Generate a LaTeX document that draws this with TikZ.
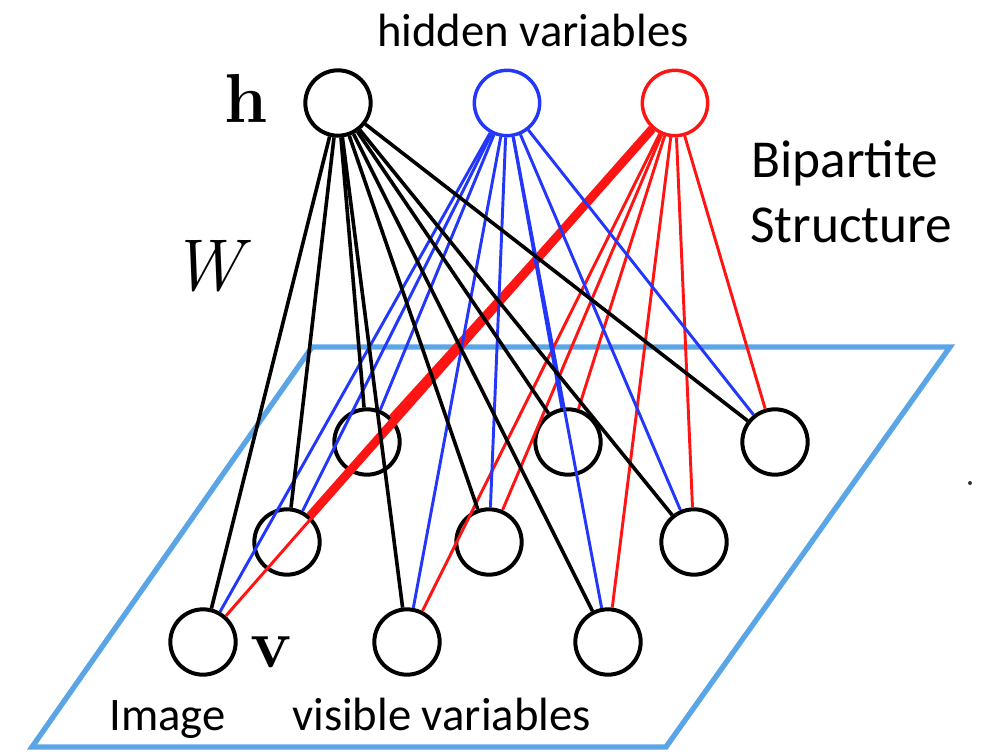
\documentclass[tikz,border=0pt]{standalone}
\usepackage{fontspec}
\newfontfamily\carlito{Carlito}
\definecolor{edgeblue}{RGB}{35,55,250}
\definecolor{edgered}{RGB}{255,20,20}
\definecolor{planeblue}{RGB}{90,165,230}
\tikzset{
  unit/.style={circle,draw=black,line width=3pt,minimum size=49pt,inner sep=0pt},
  hidblack/.style={unit},
  hidblue/.style={unit,draw=edgeblue,line width=2.6pt},
  hidred/.style={unit,draw=edgered,line width=2.6pt},
  eblack/.style={black,line width=2.7pt},
  eblue/.style={edgeblue,line width=2.2pt},
  ered/.style={edgered,line width=2.2pt},
  lbl/.style={inner sep=0pt,anchor=base west},
}
\begin{document}
\begin{tikzpicture}[x=0.75pt,y=-0.75pt]
\useasboundingbox (0,0) rectangle (981,756);
% plane
\draw[planeblue,line width=4pt,line join=miter] (312,347) -- (950,347) -- (666,747) -- (32,747) -- cycle;
% hidden units
\node[hidblack] (hb) at (338,103) {};
\node[hidblue] (hu) at (507,103) {};
\node[hidred] (hr) at (675,103) {};
% visible units
\node[unit] (va1) at (367,442) {};
\node[unit] (va2) at (568,442) {};
\node[unit] (va3) at (775,442) {};
\node[unit] (vb1) at (287,542) {};
\node[unit] (vb2) at (489,542) {};
\node[unit] (vb3) at (694,542) {};
\node[unit] (vc1) at (203,642) {};
\node[unit] (vc2) at (407,642) {};
\node[unit] (vc3) at (608,642) {};
% edges
\foreach \t in {va1,va2,va3,vb1,vb2,vb3,vc1,vc2,vc3} {
  \draw[ered] (hr) -- (\t);
}
\draw[edgered,line width=6.5pt] (hr) -- (vb1);
\foreach \t in {va1,va2,va3,vb1,vb2,vb3,vc1,vc2,vc3} {
  \draw[eblue] (hu) -- (\t);
}
\foreach \t in {va1,va2,va3,vb1,vb2,vb3,vc1,vc2,vc3} {
  \draw[eblack] (hb) -- (\t);
}
% labels
\node[lbl] (thid) at (377,47) {\carlito\fontsize{35}{42}\selectfont hidden variables};
\node[lbl] (tbip) at (751,178) {\carlito\fontsize{40}{48}\selectfont Bipartite};
\node[lbl] (tstr) at (750,242) {\carlito\fontsize{40}{48}\selectfont Structure};
\node[lbl] (timg) at (109,730) {\carlito\fontsize{35}{42}\selectfont Image};
\node[lbl] (tvis) at (292,730) {\carlito\fontsize{35}{42}\selectfont visible variables};
\node[lbl] (th) at (224,123) {\fontsize{52}{60}\selectfont\textbf{h}};
\node[lbl] (tv) at (250,667) {\fontsize{52}{60}\selectfont\textbf{v}};
\node[lbl] (tw) at (170,290) {\fontsize{55}{60}\selectfont\textit{W}};
\fill[black!80] (970,483) circle (2);
\end{tikzpicture}
\end{document}
